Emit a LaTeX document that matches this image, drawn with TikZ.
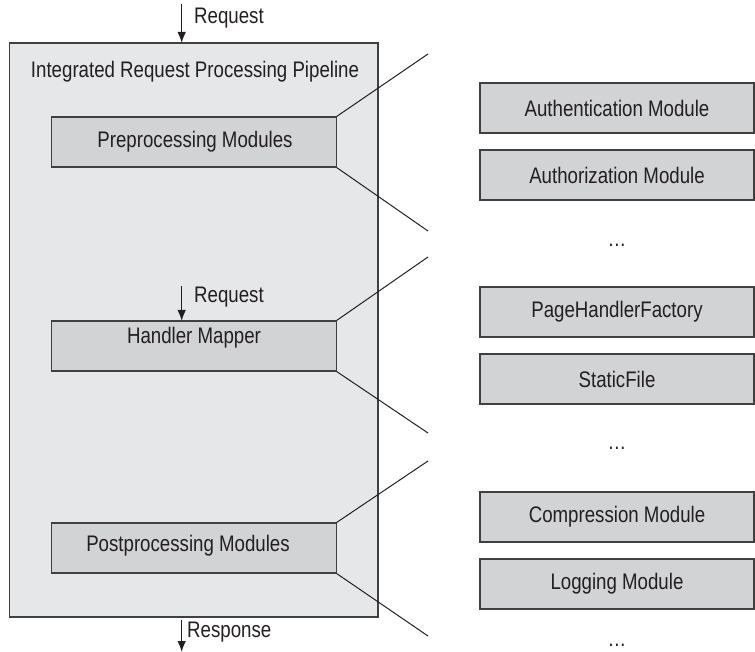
\documentclass[tikz,border=0pt]{standalone}
\usepackage{fontspec}
\setmainfont{Liberation Sans}[FakeStretch=0.83]
\usetikzlibrary{arrows.meta}
\definecolor{outerfill}{HTML}{E6E7E8}
\definecolor{boxfill}{HTML}{D1D3D4}
\definecolor{edge}{HTML}{404041}
\definecolor{ink}{HTML}{231F20}
\tikzset{
  x=1pt, y=-1pt,
  every node/.style={font=\fontsize{22.5}{24}\selectfont, text=ink, inner sep=0pt},
  outerbox/.style={draw=edge, fill=outerfill, line width=1.4pt, minimum width=368.5pt, minimum height=574pt},
  innerbox/.style={draw=edge, fill=boxfill, line width=1.2pt, minimum width=284.3pt, minimum height=50pt},
  modbox/.style={draw=edge, fill=boxfill, line width=1.2pt, minimum width=274pt, minimum height=50pt},
  fan/.style={draw=ink, line width=1pt},
  flow/.style={draw=ink, line width=1.3pt, -{Latex[length=11pt,width=8.5pt]}},
}
\begin{document}
\begin{tikzpicture}
\useasboundingbox (0,0) rectangle (755,652);
% outer pipeline
\node[outerbox] (pipe) at (193.75,330) {};
\node (title) at (195,72) {Integrated Request Processing Pipeline};
% inner boxes
\node[innerbox] (pre) at (194,142) {};
\node (pretext) at (195,142) {Preprocessing Modules};
\node[innerbox] (hm) at (194,346) {};
\node (hmtext) at (194,338) {Handler Mapper};
\node[innerbox] (post) at (194,548) {};
\node (posttext) at (188,546) {Postprocessing Modules};
% right modules
\node[modbox] (auth) at (617,108) {Authentication Module};
\node[modbox] (authz) at (617,175) {Authorization Module};
\node (dots1) at (617,245) {\dots};
\node[modbox] (phf) at (617,312) {PageHandlerFactory};
\node[modbox] (sf) at (617,379) {StaticFile};
\node (dots2) at (617,448) {\dots};
\node[modbox] (comp) at (617,517) {Compression Module};
\node[modbox] (log) at (617,584) {Logging Module};
\node (dots3) at (617,645) {\dots};
% fan lines
\coordinate (f1a) at (428,54);
\coordinate (f1b) at (428,231);
\coordinate (f2a) at (428,257);
\coordinate (f2b) at (428,433);
\coordinate (f3a) at (428,461);
\coordinate (f3b) at (428,636);
\draw[fan] (pre.north east) -- (f1a);
\draw[fan] (pre.south east) -- (f1b);
\draw[fan] (hm.north east) -- (f2a);
\draw[fan] (hm.south east) -- (f2b);
\draw[fan] (post.north east) -- (f3a);
\draw[fan] (post.south east) -- (f3b);
% flow arrows
\coordinate (rq1s) at (181.7,4);
\coordinate (rq1e) at (181.7,43);
\draw[flow] (rq1s) -- (rq1e);
\node[anchor=west] (rq1) at (194,18) {Request};
\coordinate (rq2s) at (181.7,286);
\coordinate (rq2e) at (181.7,321);
\draw[flow] (rq2s) -- (rq2e);
\node[anchor=west] (rq2) at (194,297) {Request};
\coordinate (rs1s) at (181.7,620);
\coordinate (rs1e) at (181.7,652);
\draw[flow] (rs1s) -- (rs1e);
\node[anchor=west] (rs1) at (187,632) {Response};
\end{tikzpicture}
\end{document}
